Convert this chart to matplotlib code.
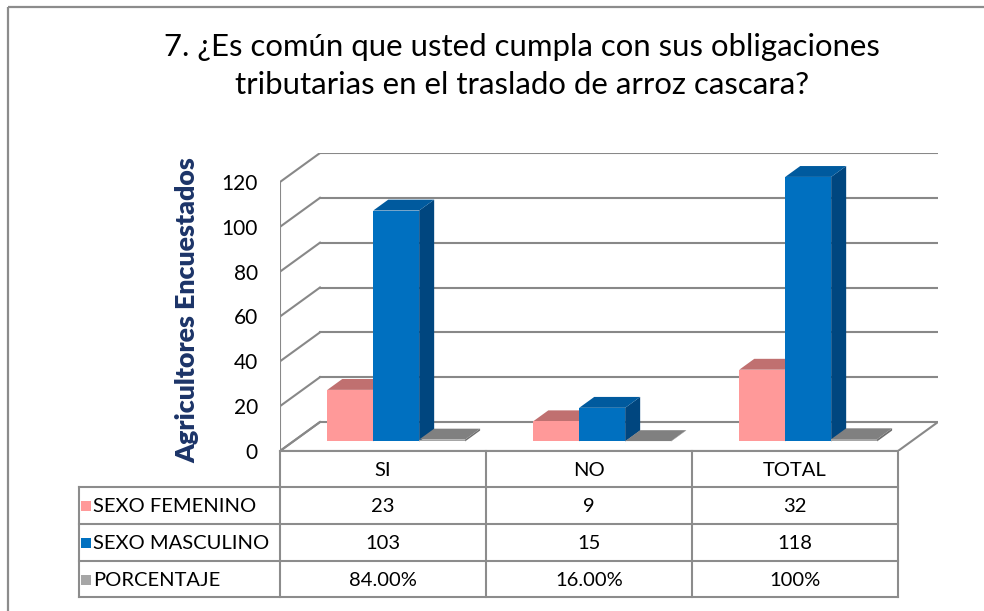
import matplotlib
matplotlib.use("Agg")
import matplotlib.pyplot as plt
from matplotlib.patches import Polygon, Rectangle
from matplotlib.lines import Line2D

plt.rcParams['font.family'] = ['Lato', 'DejaVu Sans']

# ---------------- data ----------------
categories = ["SI", "NO", "TOTAL"]
series_names = ["SEXO FEMENINO", "SEXO MASCULINO", "PORCENTAJE"]
femenino = [23, 9, 32]
masculino = [103, 15, 118]
porcentaje = [0.84, 0.16, 1.00]
porcentaje_labels = ["84.00%", "16.00%", "100%"]
yticks = [0, 20, 40, 60, 80, 100, 120]
title = "7. ¿Es común que usted cumpla con sus obligaciones\ntributarias en el traslado de arroz cascara?"
ylabel = "Agricultores Encuestados"

# ---------------- style ----------------
W, H = 984, 611
front_cols = ["#FF9999", "#0070C0", "#A6A6A6"]
top_cols = ["#C07070", "#005A9E", "#808080"]
side_cols = ["#CC7A7A", "#00467F", "#6E6E6E"]
key_cols = ["#FF9999", "#0070C0", "#A6A6A6"]
grid_col = "#888888"

fig = plt.figure(figsize=(W / 100, H / 100), dpi=100)

def fx(px):
    return px / W

def fy(py):
    return 1 - py / H

# outer frame
fig.add_artist(Line2D([fx(8), fx(8)], [fy(7), fy(640)], color="#8C8C8C", lw=1.6,
                      solid_capstyle="butt"))
fig.add_artist(Line2D([fx(8), fx(1010)], [fy(7), fy(7)], color="#8C8C8C", lw=1.6,
                      solid_capstyle="butt"))

# title
fig.text(fx(522), fy(66), title, ha="center", va="center", fontsize=22.4,
         linespacing=1.42, color="black")

# ---------------- 3D-looking bar chart ----------------
x_left, x_right, y_bot, y_top = 280, 938, 451, 153
ax = fig.add_axes([fx(x_left), fy(y_bot), fx(x_right) - fx(x_left), fy(y_top) - fy(y_bot)])
n = len(categories)
front_px = (898 - 280) / n
DX = 40 / front_px          # depth offset in category units
px_per_val = (451 - 182) / 120.0
DY = 29 / px_per_val        # depth offset in value units
ax.set_xlim(0, n + DX)
ax.set_ylim(0, 120 + DY)
for s in ax.spines.values():
    s.set_visible(False)
ax.set_xticks([])
ax.set_yticks(yticks)
ax.set_yticklabels([str(v) for v in yticks], fontsize=15)
ax.tick_params(axis="y", length=0, pad=16)
ax.patch.set_alpha(0)

def P(x, y, d):
    return (x + d * DX, y + d * DY)

# floor
ax.add_patch(Polygon([P(0, 0, 0), P(n, 0, 0), P(n, 0, 1), P(0, 0, 1)], closed=True,
                     facecolor="white", edgecolor=grid_col, lw=1.5, zorder=1))
# front-left edge of left wall
ax.plot([0, 0], [0, yticks[-1]], color=grid_col, lw=1.5, zorder=1, solid_capstyle="butt")
for v in yticks:
    if v > 0:
        a, b = P(0, v, 1), P(n, v, 1)
        ax.plot([a[0], b[0]], [a[1], b[1]], color=grid_col, lw=1.5, zorder=1)
    a, b = P(0, v, 0), P(0, v, 1)
    ax.plot([a[0], b[0]], [a[1], b[1]], color=grid_col, lw=1.5, zorder=1)

series_vals = [femenino, masculino, porcentaje]
bw = 0.223
d0, d1 = 0.33, 0.705
z = 3
for i in range(n):
    start = i + 0.5 - 1.5 * bw
    for j, vals in enumerate(series_vals):
        h = vals[i]
        x0, x1 = start + j * bw, start + (j + 1) * bw
        side = [P(x1, 0, d0), P(x1, 0, d1), P(x1, h, d1), P(x1, h, d0)]
        top = [P(x0, h, d0), P(x1, h, d0), P(x1, h, d1), P(x0, h, d1)]
        front = [P(x0, 0, d0), P(x1, 0, d0), P(x1, h, d0), P(x0, h, d0)]
        ax.add_patch(Polygon(side, closed=True, facecolor=side_cols[j], edgecolor="none", zorder=z))
        ax.add_patch(Polygon(top, closed=True, facecolor=top_cols[j], edgecolor="none", zorder=z))
        ax.add_patch(Polygon(front, closed=True, facecolor=front_cols[j], edgecolor="none", zorder=z))
        z += 1

# y label
fig.text(fx(187), fy(310), ylabel, rotation=90, ha="center", va="center",
         fontsize=19.3, fontweight="heavy", color="#1C3468")

# ---------------- data table ----------------
col_x = [79, 280, 486, 692, 898]
row_y = [451, 487, 524, 561, 597]
lc = "#8C8C8C"
def hline(y, xa, xb):
    fig.add_artist(Line2D([fx(xa), fx(xb)], [fy(y), fy(y)], color=lc, lw=1.5))
def vline(x, ya, yb):
    fig.add_artist(Line2D([fx(x), fx(x)], [fy(ya), fy(yb)], color=lc, lw=1.5))

hline(row_y[0], col_x[1], col_x[-1])
for y in row_y[1:]:
    hline(y, col_x[0], col_x[-1])
vline(col_x[0], row_y[1], row_y[-1])
for x in col_x[1:]:
    vline(x, row_y[0], row_y[-1])

tfs = 14.5
for i, c in enumerate(categories):
    fig.text(fx((col_x[i + 1] + col_x[i + 2]) / 2), fy((row_y[0] + row_y[1]) / 2 + 1), c,
             ha="center", va="center", fontsize=tfs)

table_rows = [[str(v) for v in femenino], [str(v) for v in masculino], porcentaje_labels]
for r, name in enumerate(series_names):
    yc = (row_y[r + 1] + row_y[r + 2]) / 2
    fig.add_artist(Rectangle((fx(81), fy(yc + 5.5)), fx(10), 10 / H, facecolor=key_cols[r],
                             edgecolor="none"))
    fig.text(fx(93), fy(yc + 1), name, ha="left", va="center", fontsize=tfs)
    for i in range(n):
        fig.text(fx((col_x[i + 1] + col_x[i + 2]) / 2), fy(yc + 1), table_rows[r][i],
                 ha="center", va="center", fontsize=tfs)

fig.savefig("out.png", dpi=100)
